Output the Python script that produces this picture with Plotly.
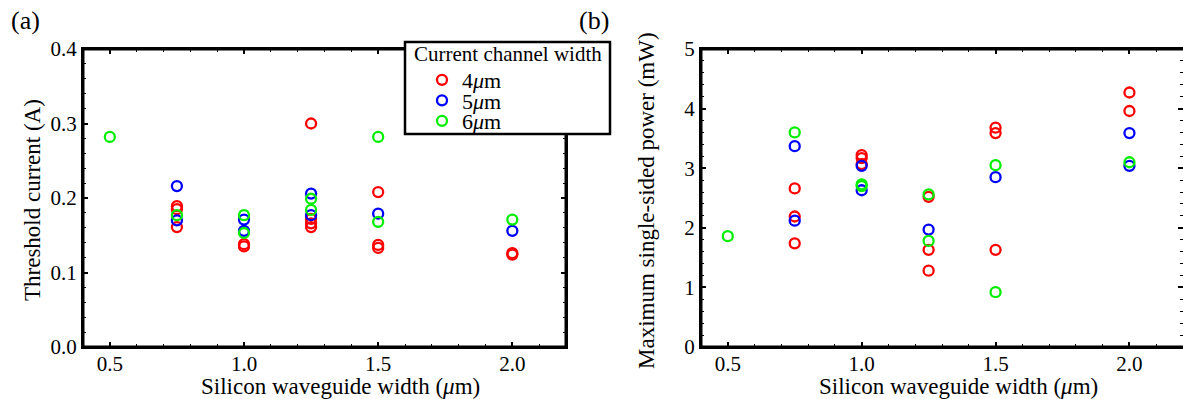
import plotly.graph_objects as go

# ---- data ----
series_names = ["4<i>μ</i>m", "5<i>μ</i>m", "6<i>μ</i>m"]
series_colors = ["#ff0000", "#0000ff", "#00ee00"]
legend_title = "Current channel width"

# (a) threshold current (A)
thr_x_4 = [0.75, 0.75, 0.75, 1.0, 1.0, 1.25, 1.25, 1.25, 1.25, 1.5, 1.5, 1.5, 2.0, 2.0]
thr_y_4 = [0.189, 0.185, 0.161, 0.138, 0.135, 0.300, 0.172, 0.166, 0.161, 0.208, 0.137, 0.133, 0.126, 0.124]
thr_x_5 = [0.75, 0.75, 1.0, 1.0, 1.25, 1.25, 1.5, 2.0]
thr_y_5 = [0.216, 0.170, 0.171, 0.156, 0.206, 0.177, 0.179, 0.156]
thr_x_6 = [0.5, 0.75, 1.0, 1.0, 1.25, 1.25, 1.5, 1.5, 2.0]
thr_y_6 = [0.282, 0.177, 0.177, 0.153, 0.199, 0.184, 0.282, 0.168, 0.171]

# (b) maximum single-sided power (mW)
pow_x_4 = [0.75, 0.75, 0.75, 1.0, 1.0, 1.0, 1.25, 1.25, 1.25, 1.5, 1.5, 1.5, 2.0, 2.0]
pow_y_4 = [2.66, 2.19, 1.74, 3.22, 3.17, 3.07, 2.52, 1.63, 1.28, 3.68, 3.59, 1.63, 4.27, 3.96]
pow_x_5 = [0.75, 0.75, 1.0, 1.0, 1.25, 1.5, 2.0, 2.0]
pow_y_5 = [3.37, 2.12, 3.04, 2.63, 1.97, 2.85, 3.59, 3.04]
pow_x_6 = [0.5, 0.75, 1.0, 1.0, 1.25, 1.25, 1.5, 1.5, 2.0]
pow_y_6 = [1.86, 3.60, 2.73, 2.70, 2.56, 1.78, 3.05, 0.92, 3.10]

x_tick_vals = [0.5, 1.0, 1.5, 2.0]
x_tick_text = ["0.5", "1.0", "1.5", "2.0"]
thr_tick_vals = [0.0, 0.1, 0.2, 0.3, 0.4]
thr_tick_text = ["0.0", "0.1", "0.2", "0.3", "0.4"]
pow_tick_vals = [0, 1, 2, 3, 4, 5]
pow_tick_text = ["0", "1", "2", "3", "4", "5"]

FONT = "Liberation Serif, Times New Roman, DejaVu Serif, serif"
W, H = 1183, 399

fig = go.Figure()

left = [(thr_x_4, thr_y_4), (thr_x_5, thr_y_5), (thr_x_6, thr_y_6)]
right = [(pow_x_4, pow_y_4), (pow_x_5, pow_y_5), (pow_x_6, pow_y_6)]
legend_ids = ["legend", "legend2", "legend3"]

for i, (xs, ys) in enumerate(left):
    fig.add_trace(go.Scatter(
        x=xs, y=ys, mode="markers", xaxis="x", yaxis="y",
        name=series_names[i], legendgroup=str(i), showlegend=True,
        legend=legend_ids[i],
        marker=dict(symbol="circle-open", size=10, color=series_colors[i],
                    line=dict(width=2.3, color=series_colors[i])),
    ))
for i, (xs, ys) in enumerate(right):
    fig.add_trace(go.Scatter(
        x=xs, y=ys, mode="markers", xaxis="x2", yaxis="y2",
        name=series_names[i], legendgroup=str(i), showlegend=False,
        marker=dict(symbol="circle-open", size=10, color=series_colors[i],
                    line=dict(width=2.3, color=series_colors[i])),
    ))

# panel geometry in pixels
L_X0, L_X1 = 83, 566
R_X0, R_X1 = 701, 1183
Y_TOP, Y_BOT = 49, 347
ydom = [1 - Y_BOT / H, 1 - Y_TOP / H]


def axis(domain, rng, anchor, tickvals, ticktext, minor_dtick, standoff):
    return dict(
        domain=domain, range=rng, anchor=anchor,
        tickmode="array", tickvals=tickvals, ticktext=ticktext,
        showline=True, linecolor="black", linewidth=2, mirror="ticks",
        ticks="inside", ticklen=5, tickwidth=1.5, tickcolor="black",
        showgrid=False, zeroline=False, automargin=False,
        ticklabelstandoff=standoff,
        tickfont=dict(family=FONT, size=21, color="black"),
        minor=dict(dtick=minor_dtick, tick0=0, ticks="inside", ticklen=3,
                   tickwidth=1, tickcolor="black", showgrid=False),
    )


def one_legend(row_y):
    return dict(
        x=422 / W, y=1 - row_y / H, xanchor="left", yanchor="middle",
        bgcolor="rgba(0,0,0,0)", borderwidth=0,
        font=dict(family=FONT, size=22, color="black"),
        itemclick=False, itemdoubleclick=False,
    )


fig.update_layout(
    template="none",
    width=W, height=H,
    margin=dict(l=0, r=0, t=0, b=0, pad=0),
    paper_bgcolor="white", plot_bgcolor="white",
    font=dict(family=FONT, color="black"),
    xaxis=axis([L_X0 / W, L_X1 / W], [0.4, 2.2], "y", x_tick_vals, x_tick_text, 0.1, -3),
    yaxis=axis(ydom, [0, 0.4], "x", thr_tick_vals, thr_tick_text, 0.02, 0),
    xaxis2=axis([R_X0 / W, R_X1 / W], [0.4, 2.2], "y2", x_tick_vals, x_tick_text, 0.1, -3),
    yaxis2=axis(ydom, [0, 5], "x2", pow_tick_vals, pow_tick_text, 0.2, 0),
    legend=one_legend(80),
    legend2=one_legend(100.5),
    legend3=one_legend(121),
    showlegend=True,
)

# frames of the panels (paper coordinates, not clipped) and the legend box
shapes = []
for x0, x1 in [(L_X0, L_X1), (R_X0, R_X1 + 3)]:
    shapes.append(dict(type="rect", xref="paper", yref="paper",
                       x0=x0 / W, x1=x1 / W, y0=1 - Y_BOT / H, y1=1 - Y_TOP / H,
                       line=dict(color="black", width=3), layer="above"))
shapes.append(dict(type="rect", xref="paper", yref="paper",
                   x0=405 / W, x1=610 / W, y0=1 - 134 / H, y1=1 - 42 / H,
                   line=dict(color="black", width=2.5), fillcolor="white", layer="above"))
fig.update_layout(shapes=shapes)

ann_font = dict(family=FONT, size=23, color="black")
annotations = [
    dict(text="(a)", x=25 / W, y=1 - 21 / H, font=dict(family=FONT, size=26, color="black")),
    dict(text="(b)", x=594 / W, y=1 - 21 / H, font=dict(family=FONT, size=26, color="black")),
    dict(text=legend_title, x=507.5 / W, y=1 - 54 / H, font=dict(family=FONT, size=21, color="black")),
    dict(text="Silicon waveguide width (<i>μ</i>m)", x=340 / W, y=1 - 386 / H, font=ann_font),
    dict(text="Silicon waveguide width (<i>μ</i>m)", x=958 / W, y=1 - 386 / H, font=ann_font),
    dict(text="Threshold current (A)", x=32 / W, y=1 - 200 / H, textangle=-90, font=ann_font),
    dict(text="Maximum single-sided power (mW)", x=646 / W, y=1 - 201 / H, textangle=-90, font=ann_font),
]
for a in annotations:
    a.update(xref="paper", yref="paper", xanchor="center", yanchor="middle", showarrow=False)
fig.update_layout(annotations=annotations)

fig.write_html("out.html", config={"displayModeBar": False},
               post_script="document.body.style.margin='0';document.body.style.overflow='hidden';")
